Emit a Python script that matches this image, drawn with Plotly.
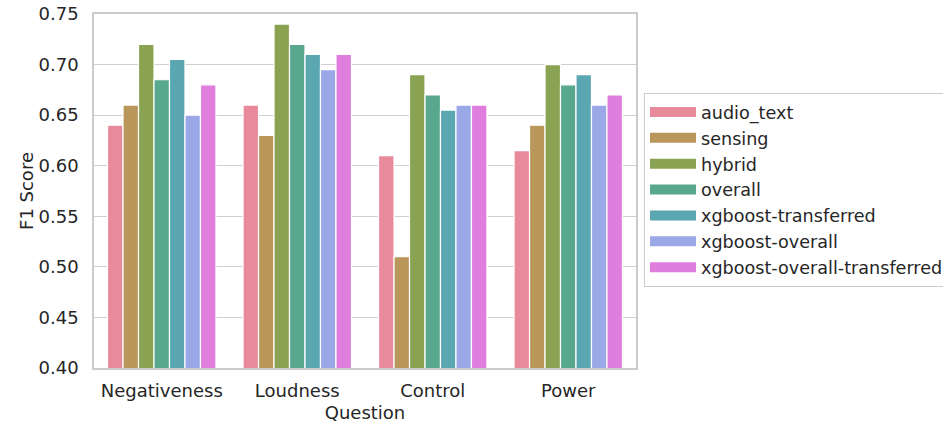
import plotly.graph_objects as go

questions = ["Negativeness", "Loudness", "Control", "Power"]
models = ["audio_text", "sensing", "hybrid", "overall", "xgboost-transferred",
          "xgboost-overall", "xgboost-overall-transferred"]
audio_text = [0.64, 0.66, 0.61, 0.615]
sensing = [0.66, 0.63, 0.51, 0.64]
hybrid = [0.72, 0.74, 0.69, 0.70]
overall = [0.685, 0.72, 0.67, 0.68]
xgboost_transferred = [0.705, 0.71, 0.655, 0.69]
xgboost_overall = [0.65, 0.695, 0.66, 0.66]
xgboost_overall_transferred = [0.68, 0.71, 0.66, 0.67]
series = [audio_text, sensing, hybrid, overall, xgboost_transferred,
          xgboost_overall, xgboost_overall_transferred]
colors = ["#e88a9b", "#b9965a", "#8aa352", "#57a88c", "#5aa7b2", "#9aa8e8", "#e07ede"]
yticks = [0.40, 0.45, 0.50, 0.55, 0.60, 0.65, 0.70, 0.75]

FONT = "DejaVu Sans"
fig = go.Figure()
for name, vals, c in zip(models, series, colors):
    fig.add_trace(go.Bar(
        x=questions, y=vals, name=name, showlegend=False, legendgroup=name,
        marker=dict(color=c, line=dict(color="white", width=1.2)),
    ))
# legend entries drawn as wide patches (matplotlib-style)
for name, c in zip(models, colors):
    fig.add_trace(go.Scatter(
        x=[None], y=[None], name=name, mode="lines", legendgroup=name,
        line=dict(color=c, width=10), hoverinfo="skip",
    ))

fig.update_layout(
    width=943, height=426,
    margin=dict(l=94, r=307, t=14, b=58, autoexpand=False),
    barmode="group", bargap=0.2, bargroupgap=0,
    plot_bgcolor="white", paper_bgcolor="white",
    font=dict(family=FONT, size=18, color="#262626"),
    legend=dict(
        x=1.0148, xanchor="left", y=0.503, yanchor="middle",
        bordercolor="#cccccc", borderwidth=1,
        font=dict(family=FONT, size=17.6, color="#262626"),
        tracegroupgap=0, itemwidth=46,
    ),
)
fig.update_yaxes(
    range=[0.40, 0.75], tickvals=yticks,
    ticktext=[f"{v:.2f}" for v in yticks],
    showgrid=True, gridcolor="#d0d0d0", gridwidth=1.2,
    showline=True, linecolor="#cccccc", linewidth=1.5, mirror=True,
    zeroline=False, ticks="", ticklabelstandoff=10, automargin=False,
    title=dict(text="F1 Score", standoff=0, font=dict(size=18)),
)
fig.update_xaxes(
    showgrid=False,
    showline=True, linecolor="#cccccc", linewidth=1.5, mirror=True,
    ticks="", ticklabelstandoff=6, automargin=False,
    title=dict(text="Question", standoff=6, font=dict(size=18)),
)
fig.write_html(
    "out.html",
    config={"displayModeBar": False},
    post_script="document.body.style.margin='0';document.body.style.overflow='hidden';",
)
